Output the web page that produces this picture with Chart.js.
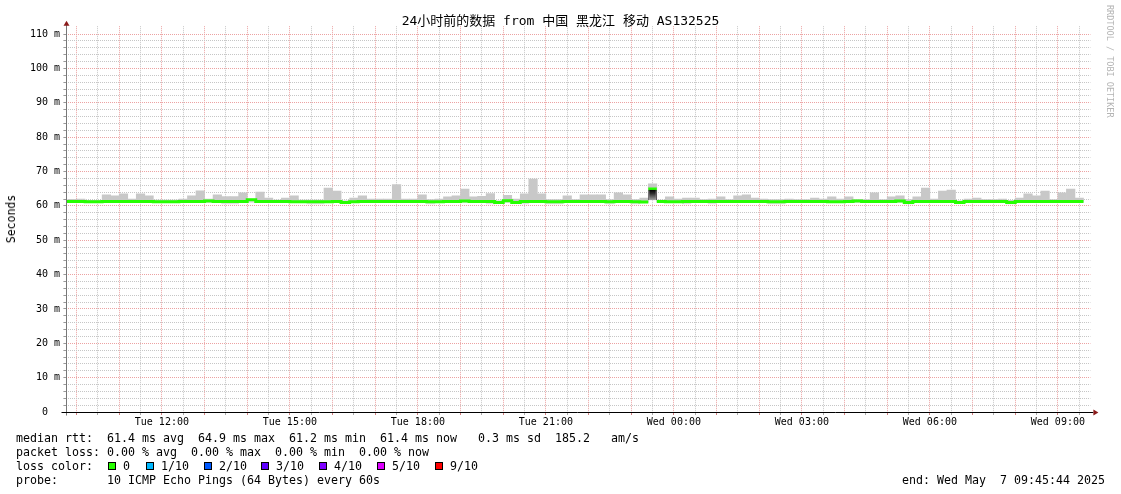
<!DOCTYPE html>
<html>
<head>
<meta charset="utf-8">
<title>24h smokeping</title>
<script src="https://cdn.jsdelivr.net/npm/chart.js@4.4.1/dist/chart.umd.min.js"></script>
<style>
  html, body { margin: 0; padding: 0; background: #fff; }
  #graph { position: relative; width: 1121px; height: 494px; overflow: hidden;
           font-family: 'DejaVu Sans Mono', 'Noto Sans CJK SC', monospace; color: #000; }
  #graph canvas { position: absolute; left: 0; top: 0; }
  .txt { position: absolute; white-space: pre; font-size: 11.63px; line-height: 14px; }
  #title { left: 0; top: 13px; width: 1121px; text-align: center; font-size: 13px; line-height: 16px; }
  #ytitle { left: 11px; top: 219px; font-size: 11.5px; transform: translate(-50%, -50%) rotate(-90deg); }
  #credit { left: 1105px; top: 5px; font-size: 8.5px; line-height: 10px; color: #b4b4b4; writing-mode: vertical-rl; }
  .box { position: absolute; top: 462px; width: 6px; height: 6px; border: 1px solid #000; }
</style>
</head>
<body>
<div id="graph">
  <canvas id="c" width="1121" height="494"></canvas>
  <div class="txt" id="title">24小时前的数据 from 中国 黑龙江 移动 AS132525</div>
  <div class="txt" id="ytitle">Seconds</div>
  <div class="txt" id="credit">RRDTOOL / TOBI OETIKER</div>
  <div class="txt" style="left:16px;top:431px">median rtt:  61.4 ms avg  64.9 ms max  61.2 ms min  61.4 ms now   0.3 ms sd  185.2   am/s</div>
  <div class="txt" style="left:16px;top:445px">packet loss: 0.00 % avg  0.00 % max  0.00 % min  0.00 % now</div>
  <div class="txt" style="left:16px;top:459px">loss color:</div>
  <div id="losslegend"></div>
  <div class="txt" style="left:16px;top:473px">probe:       10 ICMP Echo Pings (64 Bytes) every 60s</div>
  <div class="txt" style="right:16px;top:473px">end: Wed May  7 09:45:44 2025</div>
</div>
<script>
// time in hours since Tue 00:00, one consolidated step = 12 min
var slotStart = 9.6;
var slotHours = 0.2;
var viewStart = 9 + 45 / 60 + 44 / 3600;
var viewEnd = viewStart + 24;

// smoke top (max ping) per step, ms
var smokeHi = [
  61.7, 61.9, 62.0, 61.6, 61.6, 63.2, 62.9, 63.5, 62.0, 63.5,
  62.9, 61.7, 61.7, 61.7, 62.0, 62.9, 64.4, 62.0, 63.2, 62.7,
  62.7, 63.8, 62.0, 64.0, 62.3, 61.7, 62.3, 62.9, 61.7, 61.7,
  61.7, 65.2, 64.3, 61.5, 62.3, 62.9, 62.0, 62.0, 62.0, 66.2,
  62.0, 62.0, 63.2, 61.8, 62.0, 62.6, 62.9, 64.9, 62.6, 62.8,
  63.6, 61.5, 63.1, 62.0, 63.5, 67.8, 63.5, 61.8, 61.8, 62.9,
  61.8, 63.2, 63.2, 63.2, 61.8, 63.8, 63.2, 61.8, 62.3, 66.4,
  61.7, 62.6, 62.0, 62.3, 62.3, 61.8, 62.0, 62.6, 61.8, 62.9,
  63.2, 62.3, 62.0, 61.8, 61.8, 62.0, 61.8, 61.8, 62.3, 62.0,
  62.6, 62.0, 62.6, 61.8, 61.8, 63.8, 61.8, 62.6, 62.9, 61.8,
  62.6, 65.2, 62.0, 64.3, 64.6, 61.5, 62.0, 62.3, 61.8, 61.8,
  62.0, 61.6, 62.3, 63.5, 62.9, 64.3, 61.8, 63.8, 64.9, 62.3
];

// smoke bottom (min ping) per step, ms
var smokeLo = [
  61.0, 61.0, 61.0, 61.0, 61.0, 61.0, 61.0, 61.0, 61.0, 61.0,
  61.0, 61.0, 61.0, 61.0, 61.0, 61.0, 61.0, 61.0, 61.0, 60.6,
  60.6, 61.0, 61.0, 61.0, 61.0, 61.0, 61.0, 61.0, 61.0, 60.6,
  60.6, 61.0, 61.0, 61.0, 61.0, 61.0, 61.0, 61.0, 61.0, 61.0,
  61.0, 61.0, 61.0, 60.6, 61.0, 61.0, 61.0, 61.0, 61.0, 61.0,
  60.6, 61.0, 61.0, 61.0, 60.6, 61.0, 61.0, 60.6, 60.6, 61.0,
  61.0, 61.0, 61.0, 61.0, 60.6, 61.0, 61.0, 60.6, 61.0, 61.7,
  61.0, 61.0, 61.0, 60.6, 61.0, 61.0, 60.6, 61.0, 61.0, 61.0,
  61.0, 61.0, 61.0, 60.6, 60.6, 61.0, 61.0, 61.0, 61.0, 61.0,
  61.0, 61.0, 61.0, 61.0, 61.0, 61.0, 61.0, 61.0, 61.0, 60.6,
  61.0, 61.0, 61.0, 61.0, 61.0, 61.0, 61.0, 61.0, 61.0, 61.0,
  61.0, 60.6, 61.0, 61.0, 61.0, 61.0, 61.0, 61.0, 61.0, 61.0
];

// median rtt per step, ms (all steps 0 loss -> green)
var median = [
  61.3, 61.3, 61.3, 61.2, 61.2, 61.3, 61.3, 61.3, 61.3, 61.3,
  61.3, 61.2, 61.2, 61.2, 61.3, 61.3, 61.3, 61.4, 61.3, 61.3,
  61.3, 61.3, 61.8, 61.3, 61.3, 61.3, 61.3, 61.2, 61.2, 61.2,
  61.2, 61.2, 61.3, 61.0, 61.2, 61.3, 61.3, 61.3, 61.3, 61.3,
  61.3, 61.3, 61.3, 61.2, 61.2, 61.3, 61.3, 61.4, 61.3, 61.3,
  61.3, 61.0, 61.5, 61.0, 61.3, 61.3, 61.3, 61.2, 61.2, 61.3,
  61.3, 61.3, 61.3, 61.3, 61.2, 61.3, 61.3, 61.2, 61.1, 64.9,
  61.3, 61.2, 61.2, 61.3, 61.3, 61.3, 61.3, 61.3, 61.3, 61.3,
  61.3, 61.3, 61.3, 61.2, 61.2, 61.3, 61.3, 61.3, 61.3, 61.3,
  61.2, 61.2, 61.3, 61.4, 61.3, 61.3, 61.3, 61.3, 61.4, 61.0,
  61.3, 61.3, 61.3, 61.3, 61.3, 61.0, 61.3, 61.3, 61.3, 61.3,
  61.3, 61.0, 61.3, 61.3, 61.3, 61.3, 61.3, 61.3, 61.3, 61.3
];

// dense (dark) smoke, only around midnight
var darkSmoke = [{ slot: 69, lo: 61.7, hi: 64.7 }];

var yMajor  = [0, 10, 20, 30, 40, 50, 60, 70, 80, 90, 100, 110];
var yLabels = ['0  ', '10 m', '20 m', '30 m', '40 m', '50 m', '60 m', '70 m', '80 m', '90 m', '100 m', '110 m'];
var xLabelAt = [12, 15, 18, 21, 24, 27, 30, 33];
var xLabels  = ['Tue 12:00', 'Tue 15:00', 'Tue 18:00', 'Tue 21:00', 'Wed 00:00', 'Wed 03:00', 'Wed 06:00', 'Wed 09:00'];

var lossNames  = ['0', '1/10', '2/10', '3/10', '4/10', '5/10', '9/10'];
var lossColors = ['#26ff00', '#00b8ff', '#0059ff', '#5e00ff', '#7e00ff', '#dd00ff', '#ff0000'];
var lossBoxX   = [108, 146, 204, 261, 319, 377, 435];

var MGRID = '#eca2a2';
var GRID  = '#c6c6c6';
var FONT  = 'DejaVu Sans Mono';

(function () {
    var html = '';
    lossNames.forEach(function (name, i) {
        html += '<div class="box" style="left:' + lossBoxX[i] + 'px;background:' + lossColors[i] + '"></div>'
            + '<div class="txt" style="left:' + (lossBoxX[i] + 15) + 'px;top:459px">' + name + '</div>';
    });
    document.getElementById('losslegend').innerHTML = html;
})();

function slotCenter(i) { return slotStart + (i + 0.5) * slotHours; }
function isDenseSlot(i) { return darkSmoke.some(function (d) { return d.slot === i; }); }

var upper = [], lower = [], medLine = [];
for (var i = 0; i < median.length; i++) {
    var t0 = slotStart + i * slotHours, t1 = t0 + slotHours;
    upper.push({ x: slotCenter(i), y: [median[i], smokeHi[i]] });
    lower.push({ x: slotCenter(i), y: [smokeLo[i], median[i]] });
    // dense slot: break the line so its step edges are left to the dark smoke
    if (isDenseSlot(i)) medLine.push({ x: t0, y: null });
    medLine.push({ x: t0, y: median[i] }, { x: t1, y: median[i] });
    if (isDenseSlot(i)) medLine.push({ x: t1, y: null });
}
var dark = darkSmoke.map(function (d) { return { x: slotCenter(d.slot), y: [d.lo, d.hi] }; });

// x grid: every 30 min from 10:00; even index = full hour
var xGrid = [];
for (var h = 10; h < viewEnd; h += 0.5) xGrid.push(h);

function denseFill(c) {
    var ys = c.chart.scales.y;
    var d = c.dataIndex == null ? null : darkSmoke[c.dataIndex];
    if (!ys || !d) return '#333';
    var top = ys.getPixelForValue(d.hi), bottom = ys.getPixelForValue(d.lo);
    if (!isFinite(top) || !isFinite(bottom)) return '#333';
    var g = c.chart.ctx.createLinearGradient(0, top, 0, bottom);
    g.addColorStop(0, '#000');
    g.addColorStop(0.35, '#2a2a2a');
    g.addColorStop(1, '#a0a0a0');
    return g;
}

var axisArrows = {
    id: 'axisArrows',
    afterDraw: function (chart) {
        var ctx = chart.ctx, a = chart.chartArea;
        var ax = Math.floor(a.left) + 0.5, ay = Math.floor(a.bottom) + 0.5;
        ctx.save();
        ctx.lineWidth = 1;
        ctx.strokeStyle = '#777';
        ctx.beginPath();
        ctx.moveTo(ax, ay + 3);
        ctx.lineTo(ax, a.top - 2);
        ctx.stroke();
        ctx.strokeStyle = '#000';
        ctx.beginPath();
        ctx.moveTo(ax - 5, ay);
        ctx.lineTo(a.right + 3, ay);
        ctx.stroke();
        ctx.fillStyle = '#8b1c1c';
        ctx.beginPath();
        ctx.moveTo(ax, a.top - 5.5);
        ctx.lineTo(ax - 3, a.top - 0.5);
        ctx.lineTo(ax + 3, a.top - 0.5);
        ctx.closePath();
        ctx.fill();
        ctx.beginPath();
        ctx.moveTo(a.right + 8, ay);
        ctx.lineTo(a.right + 3, ay - 3);
        ctx.lineTo(a.right + 3, ay + 3);
        ctx.closePath();
        ctx.fill();
        ctx.restore();
    }
};

function isHourLine(c) { return c.index % 2 === 0; }

new Chart(document.getElementById('c'), {
    type: 'bar',
    data: {
        datasets: [
            { label: 'smoke', data: upper, backgroundColor: '#c8c8c8', grouped: false,
              barPercentage: 1, categoryPercentage: 1, borderWidth: 0, order: 4 },
            { label: 'smoke below', data: lower, backgroundColor: '#e4dbe4', grouped: false,
              barPercentage: 1, categoryPercentage: 1, borderWidth: 0, order: 4 },
            { type: 'line', label: 'median rtt', data: medLine, borderColor: '#26ff00', borderWidth: 3,
              pointRadius: 0, spanGaps: false, borderCapStyle: 'butt', borderJoinStyle: 'miter', order: 2 },
            { label: 'dense smoke', data: dark, grouped: false, barPercentage: 1, categoryPercentage: 1,
              borderColor: '#111', borderWidth: { left: 1, right: 1, top: 0, bottom: 0 }, borderSkipped: false,
              inflateAmount: 0, order: 1, backgroundColor: denseFill }
        ]
    },
    options: {
        responsive: false,
        animation: false,
        devicePixelRatio: 1,
        layout: { padding: { top: 26.2, right: 30.6, left: 0, bottom: 0 } },
        plugins: { legend: { display: false }, tooltip: { enabled: false }, title: { display: false } },
        scales: {
            x: {
                type: 'linear', min: viewStart, max: viewEnd, bounds: 'data', offset: false,
                afterBuildTicks: function (s) {
                    s.ticks = xGrid.map(function (v) { return { value: v }; });
                },
                afterFit: function (s) { s.height = 82; },
                grid: {
                    offset: false, lineWidth: 1, tickLength: 3, tickBorderDash: [],
                    color: function (c) { return isHourLine(c) ? MGRID : GRID; },
                    tickColor: function (c) { return isHourLine(c) ? '#d08080' : '#aaa'; }
                },
                border: { display: false, dash: [1, 1] },
                ticks: {
                    autoSkip: false, maxRotation: 0, minRotation: 0, padding: 1, color: '#000',
                    font: { family: FONT, size: 10 },
                    callback: function (v) { var k = xLabelAt.indexOf(v); return k < 0 ? '' : xLabels[k]; }
                }
            },
            y: {
                min: 0, max: 112.3, bounds: 'data',
                afterBuildTicks: function (s) {
                    var t = [];
                    for (var v = 0; v <= 110; v += 2) t.push({ value: v });
                    s.ticks = t;
                },
                afterFit: function (s) { s.width = 66.4; },
                grid: {
                    lineWidth: 1, tickLength: 3, tickBorderDash: [],
                    color: function (c) { return c.index % 5 === 0 ? MGRID : GRID; },
                    tickColor: '#999'
                },
                border: { display: false, dash: [1, 1] },
                ticks: {
                    autoSkip: false, padding: 3.4, color: '#000',
                    font: { family: FONT, size: 10 },
                    callback: function (v) { var k = yMajor.indexOf(v); return k < 0 ? '' : yLabels[k]; }
                }
            }
        }
    },
    plugins: [axisArrows]
});
</script>
</body>
</html>
